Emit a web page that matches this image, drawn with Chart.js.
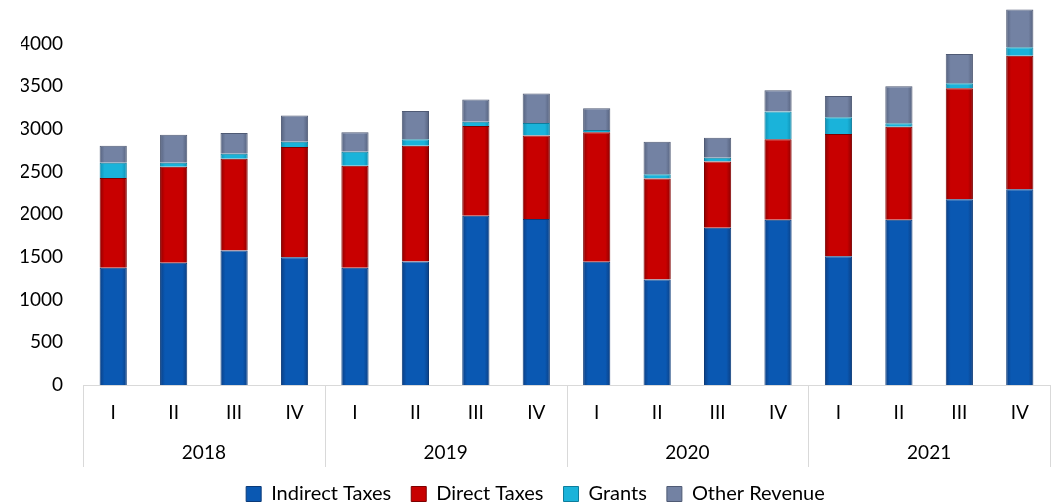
<!DOCTYPE html>
<html>
<head>
<meta charset="utf-8">
<script src="https://cdn.jsdelivr.net/npm/chart.js@4"></script>
<style>
  html, body { margin: 0; padding: 0; background: #fff; }
  #wrap { width: 1056px; height: 504px; }
</style>
</head>
<body>
<div id="wrap"><canvas id="revenue-chart"></canvas></div>
<script>
const quarters = ['I', 'II', 'III', 'IV', 'I', 'II', 'III', 'IV', 'I', 'II', 'III', 'IV', 'I', 'II', 'III', 'IV'];
const years = ['2018', '2019', '2020', '2021'];

const indirectTaxes = [1373, 1432, 1576, 1498, 1373, 1447, 1984, 1945, 1443, 1235, 1843, 1937, 1510, 1937, 2176, 2294];
const directTaxes = [1054, 1125, 1075, 1290, 1196, 1357, 1051, 980, 1518, 1185, 777, 942, 1431, 1090, 1302, 1565];
const grants = [177, 47, 58, 63, 164, 75, 51, 146, 27, 51, 43, 325, 196, 40, 59, 98];
const otherRevenue = [200, 329, 244, 306, 228, 333, 259, 345, 255, 380, 235, 251, 251, 435, 341, 443];

const FONT = 'Lato';
const TEXT = '#000000';
const LINE = '#d9d9d9';

// [edge, main, border]
const palette = {
  blue: ['#0b3f84', '#0a58b2', '#0b3a78'],
  red: ['#8e0000', '#c80000', '#7d0000'],
  cyan: ['#0f8fb3', '#1ab3da', '#0d7d9c'],
  gray: ['#56627e', '#7382a3', '#4f5a74']
};

function barFill(colors) {
  return (context) => {
    const chart = context.chart;
    const x = chart.scales.x;
    if (!chart.chartArea || !x || context.dataIndex === undefined) return colors[1];
    const cx = x.getPixelForValue(context.dataIndex);
    const half = x.width / quarters.length * 0.45 / 2;
    const g = chart.ctx.createLinearGradient(cx - half, 0, cx + half, 0);
    g.addColorStop(0, colors[0]);
    g.addColorStop(0.18, colors[1]);
    g.addColorStop(0.82, colors[1]);
    g.addColorStop(1, colors[0]);
    return g;
  };
}

function makeSet(label, data, colors) {
  return {
    label: label,
    data: data,
    backgroundColor: barFill(colors),
    borderColor: colors[2],
    borderWidth: 1,
    legendColor: colors[1],
    legendBorder: colors[2]
  };
}

// year row under the quarter labels, with separators
const yearAxis = {
  id: 'yearAxis',
  afterDraw(chart) {
    const x = chart.scales.x;
    const ctx = chart.ctx;
    const top = chart.chartArea.bottom;
    const bottom = top + 82;
    ctx.save();
    ctx.strokeStyle = LINE;
    ctx.lineWidth = 1;
    for (let i = 0; i <= years.length; i++) {
      const px = Math.round(x.getPixelForValue(i * 4 - 0.5)) + 0.5;
      ctx.beginPath();
      ctx.moveTo(px, top);
      ctx.lineTo(px, bottom);
      ctx.stroke();
    }
    ctx.fillStyle = TEXT;
    ctx.font = '19px ' + FONT;
    ctx.textAlign = 'center';
    ctx.textBaseline = 'middle';
    years.forEach((yr, i) => {
      const cx = (x.getPixelForValue(i * 4) + x.getPixelForValue(i * 4 + 3)) / 2;
      ctx.fillText(yr, cx, top + 68);
    });
    ctx.restore();
  }
};

const ctx = document.getElementById('revenue-chart').getContext('2d');
new Chart(ctx, {
  type: 'bar',
  data: {
    labels: quarters,
    datasets: [
      makeSet('Indirect Taxes', indirectTaxes, palette.blue),
      makeSet('Direct Taxes', directTaxes, palette.red),
      makeSet('Grants', grants, palette.cyan),
      makeSet('Other Revenue', otherRevenue, palette.gray)
    ]
  },
  options: {
    responsive: true,
    maintainAspectRatio: false,
    animation: false,
    layout: { padding: { top: 1, left: 21, right: 6, bottom: -10 } },
    datasets: { bar: { barPercentage: 0.45, categoryPercentage: 1 } },
    scales: {
      x: {
        stacked: true,
        grid: { display: false },
        border: { color: LINE, width: 1 },
        ticks: { color: TEXT, font: { family: FONT, size: 19 }, padding: 8, maxRotation: 0 },
        afterFit(scale) { scale.height = 79; }
      },
      y: {
        stacked: true,
        min: 0,
        max: 4500,
        grid: { display: false, drawTicks: false },
        border: { display: false },
        ticks: {
          stepSize: 500,
          color: TEXT,
          font: { family: FONT, size: 19 },
          padding: 20,
          callback: (v) => (v > 4000 ? null : v)
        },
        afterFit(scale) {
          scale.width = 62;
          scale.paddingTop = 0;
        }
      }
    },
    plugins: {
      tooltip: { enabled: false },
      legend: {
        position: 'bottom',
        labels: {
          color: TEXT,
          font: { family: FONT, size: 20 },
          boxWidth: 15,
          boxHeight: 15,
          padding: 20,
          generateLabels(chart) {
            return chart.data.datasets.map((ds, i) => ({
              text: ds.label,
              fillStyle: ds.legendColor,
              strokeStyle: ds.legendBorder,
              lineWidth: 1,
              fontColor: TEXT,
              hidden: false,
              datasetIndex: i
            }));
          }
        }
      }
    }
  },
  plugins: [yearAxis]
});
</script>
</body>
</html>
